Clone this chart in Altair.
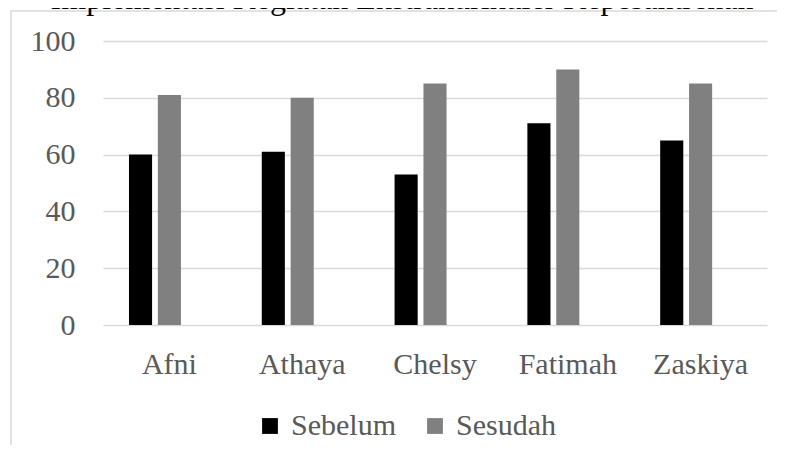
import altair as alt
import pandas as pd

names = ["Afni", "Athaya", "Chelsy", "Fatimah", "Zaskiya"]
sebelum = [60, 61, 53, 71, 65]
sesudah = [81, 80, 85, 90, 85]
series = ["Sebelum", "Sesudah"]
slots = ["Sebelum", "Sesudah", "Kosong"]
colors = ["#000000", "#808080"]
y_ticks = [0, 20, 40, 60, 80, 100]
title_text = "Implementasi Kegiatan Ekstrakurikuler Kepesantrenan"

rows = []
for i, n in enumerate(names):
    rows.append({"Nama": n, "Seri": series[0], "Nilai": sebelum[i]})
    rows.append({"Nama": n, "Seri": series[1], "Nilai": sesudah[i]})
df = pd.DataFrame(rows)

FONT = "Liberation Serif"

frame = alt.Chart(pd.DataFrame({"a": [0]})).mark_rect(
    fill="transparent", stroke="#d9d9d9", strokeWidth=1.5
).encode(
    x=alt.value(-92), x2=alt.value(900), y=alt.value(-30), y2=alt.value(600)
)

title = alt.Chart(pd.DataFrame({"t": [title_text]})).mark_text(
    font=FONT, fontSize=32, color="#000000", align="center", baseline="alphabetic"
).encode(text="t:N", x=alt.value(299), y=alt.value(-32))

bars = alt.Chart(df).mark_bar(stroke=None).encode(
    x=alt.X("Nama:N", sort=names, title=None,
            scale=alt.Scale(paddingInner=0, paddingOuter=0),
            axis=alt.Axis(labelAngle=0, labelFont=FONT, labelFontSize=30,
                          labelColor="#595959", ticks=False, domain=False,
                          labelPadding=24, grid=False)),
    xOffset=alt.XOffset("Seri:N", scale=alt.Scale(domain=slots, paddingInner=0.2, paddingOuter=0.9)),
    y=alt.Y("Nilai:Q", title=None,
            scale=alt.Scale(domain=[0, 100], nice=False),
            axis=alt.Axis(values=y_ticks, labelFont=FONT, labelFontSize=30,
                          labelColor="#595959", ticks=False, domain=False,
                          labelPadding=28, gridColor="#d9d9d9", gridWidth=1.5)),
    color=alt.Color("Seri:N", scale=alt.Scale(domain=series, range=colors),
                    legend=alt.Legend(title=None, orient="none", direction="horizontal",
                                      legendX=152, legendY=370,
                                      symbolType="square", symbolSize=250,
                                      symbolStrokeWidth=0, labelFont=FONT,
                                      labelFontSize=30, labelColor="#595959",
                                      labelOffset=6, columnPadding=24)),
)

chart = alt.layer(frame, title, bars).properties(
    width=664, height=284,
    padding={"left": 95, "top": 33, "right": 10, "bottom": 120},
    autosize=alt.AutoSizeParams(type="none"),
).configure(font=FONT).configure_view(stroke=None)

chart.save("out.html", embed_options={"renderer": "svg", "actions": False})
